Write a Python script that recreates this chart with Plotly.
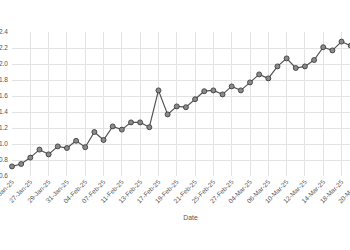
import plotly.graph_objects as go

dates = [
    "23-Jan-25", "24-Jan-25", "27-Jan-25", "28-Jan-25", "29-Jan-25", "30-Jan-25", "31-Jan-25",
    "03-Feb-25", "04-Feb-25", "06-Feb-25", "07-Feb-25", "10-Feb-25", "11-Feb-25", "12-Feb-25",
    "13-Feb-25", "14-Feb-25", "17-Feb-25", "18-Feb-25", "19-Feb-25", "20-Feb-25", "21-Feb-25",
    "24-Feb-25", "25-Feb-25", "26-Feb-25", "27-Feb-25", "28-Feb-25", "04-Mar-25", "05-Mar-25",
    "06-Mar-25", "07-Mar-25", "10-Mar-25", "11-Mar-25", "12-Mar-25", "13-Mar-25", "14-Mar-25",
    "17-Mar-25", "18-Mar-25", "19-Mar-25", "20-Mar-25", "21-Mar-25",
]
values = [
    0.72, 0.75, 0.83, 0.93, 0.87, 0.97, 0.95, 1.04, 0.96, 1.15,
    1.05, 1.22, 1.18, 1.27, 1.27, 1.21, 1.67, 1.37, 1.47, 1.46,
    1.56, 1.66, 1.67, 1.62, 1.72, 1.67, 1.77, 1.87, 1.82, 1.97,
    2.07, 1.95, 1.97, 2.05, 2.21, 2.17, 2.28, 2.23, 2.25, 2.30,
]
tick_labels = dates[::2]

font_family = "Liberation Sans, Arial, sans-serif"

fig = go.Figure(
    go.Scatter(
        x=dates,
        y=values,
        mode="lines+markers",
        line=dict(color="#555555", width=1.2),
        marker=dict(size=5, color="#8a8a8a", line=dict(color="#333333", width=0.8)),
        cliponaxis=False,
    )
)

fig.update_layout(
    width=380,
    height=250,
    margin=dict(l=12, r=11, t=32, b=74),
    paper_bgcolor="white",
    plot_bgcolor="white",
    showlegend=False,
    font=dict(family=font_family, size=6.5, color="#555555"),
)
fig.update_xaxes(
    type="category",
    range=[0, len(dates) - 1],
    tickmode="array",
    tickvals=tick_labels,
    ticktext=tick_labels,
    tickangle=-45,
    showgrid=True,
    gridcolor="#e3e3e3",
    gridwidth=1,
    showline=False,
    zeroline=False,
    automargin=False,
    ticks="",
    title=dict(text="Date", font=dict(size=6.8, color="#555555"), standoff=11),
)
fig.update_yaxes(
    range=[0.6, 2.4],
    dtick=0.2,
    tickformat=".1f",
    showgrid=True,
    gridcolor="#e3e3e3",
    gridwidth=1,
    showline=False,
    zeroline=False,
    automargin=False,
    ticks="",
    ticklabelstandoff=3,
)

fig.write_html(
    "out.html",
    post_script="document.documentElement.style.overflow='hidden';document.body.style.overflow='hidden';",
)
